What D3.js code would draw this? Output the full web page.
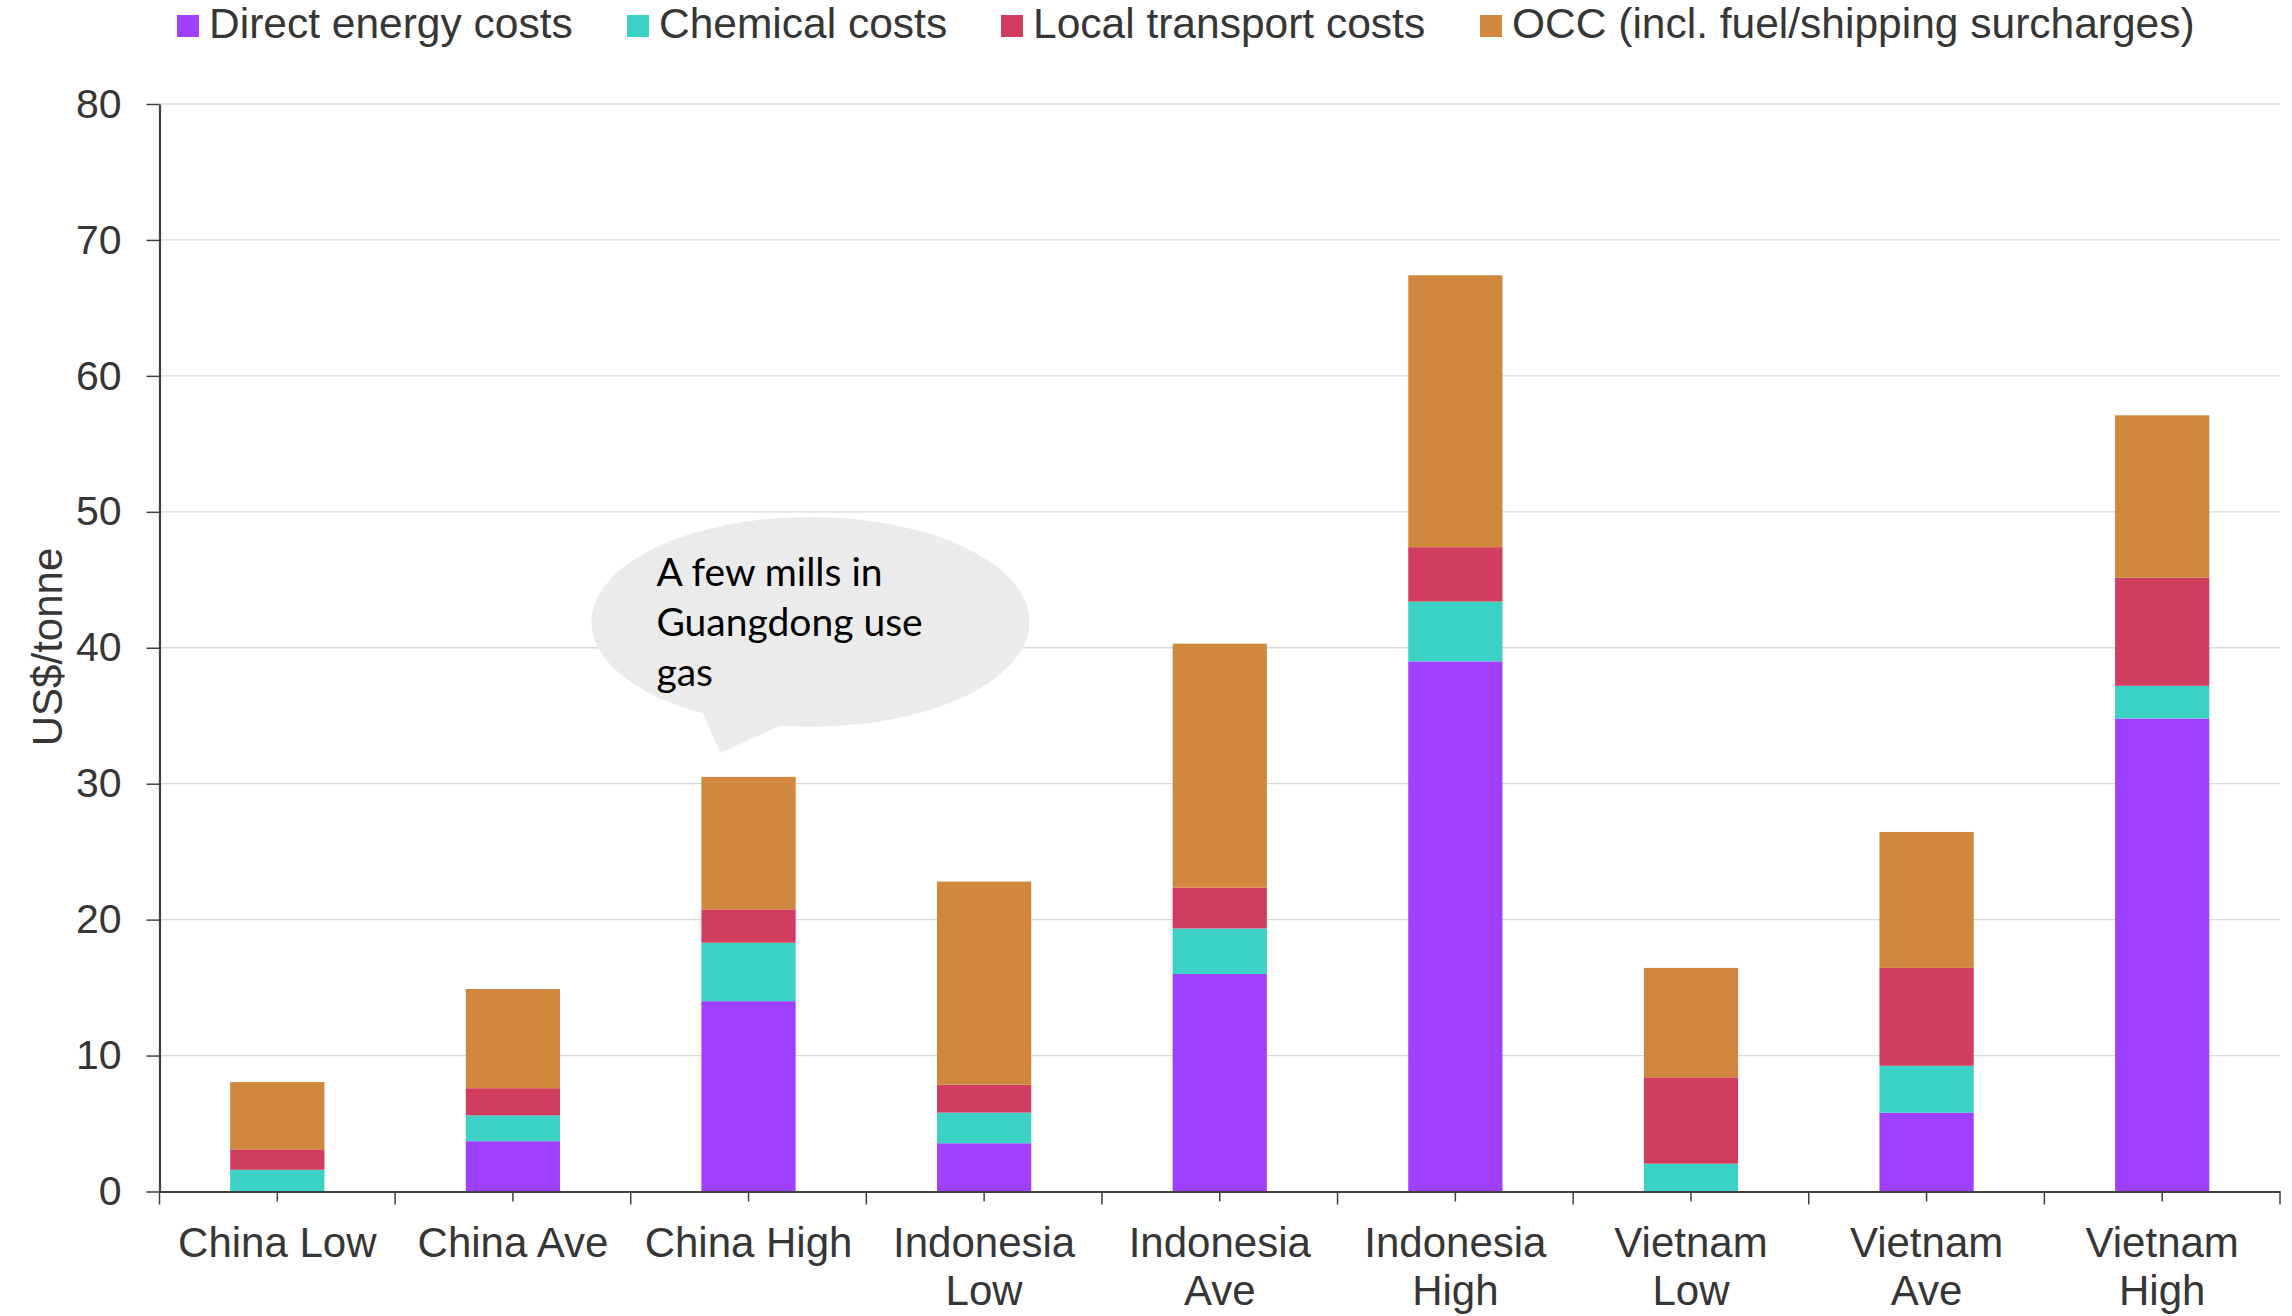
<!DOCTYPE html>
<html>
<head>
<meta charset="utf-8">
<script src="https://cdn.jsdelivr.net/npm/d3@7"></script>
<style>
  html, body { margin: 0; padding: 0; background: #ffffff; }
  svg { display: block; }
</style>
</head>
<body>
<svg id="chart" width="2292" height="1316"></svg>
<script>
// Cost breakdown per tonne, stacked by component
const categories = ["China Low", "China Ave", "China High", "Indonesia Low", "Indonesia Ave",
                    "Indonesia High", "Vietnam Low", "Vietnam Ave", "Vietnam High"];
const seriesNames = ["Direct energy costs", "Chemical costs", "Local transport costs",
                     "OCC (incl. fuel/shipping surcharges)"];
const directEnergy = [0, 3.7, 14.0, 3.55, 16.0, 39.0, 0, 5.8, 34.8];
const chemical     = [1.6, 1.9, 4.3, 2.25, 3.35, 4.4, 2.05, 3.45, 2.4];
const transport    = [1.5, 2.0, 2.45, 2.05, 3.0, 4.0, 6.35, 7.2, 7.95];
const occ          = [4.95, 7.3, 9.75, 14.95, 17.95, 20.0, 8.05, 10.0, 11.95];
const yTicks = [0, 10, 20, 30, 40, 50, 60, 70, 80];
const yLabel = "US$/tonne";
const noteLines = ["A few mills in", "Guangdong use", "gas"];
const noteCategory = "China High";

const colors = ["#9f40ff", "#3cd1c5", "#d03d5e", "#cf883d"];
const textColor = "#363636";
const axisColor = "#404040";
const fontFamily = "'Liberation Sans', Arial, sans-serif";

const svg = d3.select("#chart");
const plotLeft = 159.5, plotRight = 2280, plotTop = 104, plotBottom = 1191.5;

const rows = categories.map((c, i) => ({
  category: c,
  [seriesNames[0]]: directEnergy[i],
  [seriesNames[1]]: chemical[i],
  [seriesNames[2]]: transport[i],
  [seriesNames[3]]: occ[i]
}));
const stacked = d3.stack().keys(seriesNames)(rows);

const x = d3.scaleBand().domain(categories).range([plotLeft, plotRight])
  .paddingInner(0.6).paddingOuter(0.3);
const y = d3.scaleLinear().domain([0, 80]).range([plotBottom, plotTop]);
const color = d3.scaleOrdinal().domain(seriesNames).range(colors);

// gridlines
svg.append("g").selectAll("line").data(yTicks.filter(t => t > 0)).join("line")
  .attr("x1", plotLeft).attr("x2", plotRight)
  .attr("y1", d => y(d)).attr("y2", d => y(d))
  .attr("stroke", "#d9d9d9").attr("stroke-width", 1.3);

// stacked bars
svg.append("g").selectAll("g").data(stacked).join("g")
  .attr("fill", d => color(d.key))
  .selectAll("rect").data(d => d.map(s => ({ s, key: d.key }))).join("rect")
  .attr("x", d => x(d.s.data.category))
  .attr("width", x.bandwidth())
  .attr("y", d => y(d.s[1]))
  .attr("height", d => Math.max(0, y(d.s[0]) - y(d.s[1])));

// y axis
const yAxis = svg.append("g").attr("transform", `translate(${plotLeft},0)`)
  .call(d3.axisLeft(y).tickValues(yTicks).tickSize(13).tickPadding(25).tickSizeOuter(0));
yAxis.select(".domain").attr("stroke", axisColor).attr("stroke-width", 2.2);
yAxis.selectAll(".tick line").attr("stroke", axisColor).attr("stroke-width", 1.5);
yAxis.selectAll(".tick text").attr("fill", textColor)
  .style("font-family", fontFamily).style("font-size", "41px");

// x axis: centre ticks plus band-boundary ticks
const xAxis = svg.append("g").attr("transform", `translate(0,${plotBottom})`)
  .call(d3.axisBottom(x).tickSize(10).tickSizeOuter(0).tickFormat(""));
xAxis.select(".domain").attr("stroke", axisColor).attr("stroke-width", 2.2);
xAxis.selectAll(".tick line").attr("stroke", axisColor).attr("stroke-width", 1.5);
const bandStep = (plotRight - plotLeft) / categories.length;
const bounds = d3.range(categories.length + 1).map(k => plotLeft + k * bandStep);
xAxis.append("g").selectAll("line").data(bounds).join("line")
  .attr("x1", d => d).attr("x2", d => d).attr("y1", 0).attr("y2", 13)
  .attr("stroke", axisColor).attr("stroke-width", 1.5);

// category labels, wrapped to the band width
const labelWidth = bandStep - 12;
const labels = svg.append("g").selectAll("text").data(categories).join("text")
  .attr("x", d => x(d) + x.bandwidth() / 2)
  .attr("y", 1257)
  .attr("text-anchor", "middle")
  .attr("fill", textColor)
  .style("font-family", fontFamily).style("font-size", "42px");
labels.each(function (d) {
  const t = d3.select(this);
  const words = d.split(" ");
  t.text(d);
  if (this.getComputedTextLength() > labelWidth && words.length > 1) {
    t.text(null);
    const lx = t.attr("x");
    t.append("tspan").attr("x", lx).attr("dy", 0).text(words.slice(0, -1).join(" "));
    t.append("tspan").attr("x", lx).attr("dy", 48).text(words[words.length - 1]);
  }
});

// y axis title
svg.append("text")
  .attr("transform", `translate(47,647) rotate(-90)`)
  .attr("text-anchor", "middle")
  .attr("dy", "0.35em")
  .attr("fill", textColor)
  .style("font-family", fontFamily).style("font-size", "42px")
  .text(yLabel);

// legend
const legendX = [177, 627, 1001, 1480];
const legend = svg.append("g");
seriesNames.forEach((name, i) => {
  const g = legend.append("g").attr("transform", `translate(${legendX[i]},0)`);
  g.append("rect").attr("x", 0).attr("y", 15).attr("width", 22).attr("height", 22)
    .attr("fill", colors[i]);
  g.append("text").attr("x", 32).attr("y", 38)
    .attr("fill", textColor)
    .style("font-family", fontFamily).style("font-size", "42.5px")
    .text(name);
});

// speech bubble pointing at the annotated bar
const noteIdx = categories.indexOf(noteCategory);
const noteTop = y(d3.sum([directEnergy, chemical, transport, occ], s => s[noteIdx]));
const tipX = x(noteCategory) + 19, tipY = noteTop - 24;
const bubbleX = tipX + 90, bubbleY = tipY - 131;
const bubble = svg.append("g");
bubble.append("ellipse").attr("cx", bubbleX).attr("cy", bubbleY).attr("rx", 219).attr("ry", 105)
  .attr("fill", "#ebebeb");
bubble.append("path")
  .attr("d", `M${tipX - 20},${tipY - 45} L${tipX},${tipY} L${tipX + 66},${tipY - 30} L${tipX + 70},${tipY - 80} L${tipX - 40},${tipY - 80} Z`)
  .attr("fill", "#ebebeb");
bubble.append("text")
  .attr("x", bubbleX - 154).attr("y", bubbleY - 36)
  .attr("fill", "#000000")
  .style("font-family", "Lato, 'Open Sans', sans-serif").style("font-size", "39px")
  .selectAll("tspan").data(noteLines).join("tspan")
  .attr("x", bubbleX - 154).attr("dy", (d, i) => i === 0 ? 0 : 50)
  .text(d => d);
</script>
</body>
</html>
